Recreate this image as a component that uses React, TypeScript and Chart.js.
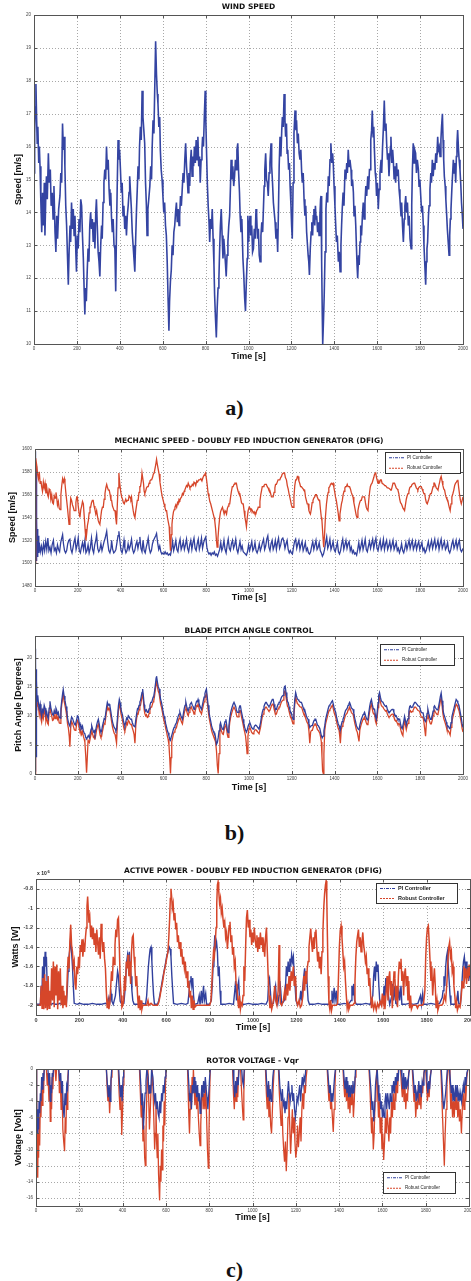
import React, { useEffect, useRef } from 'react';
import { Chart, registerables } from 'chart.js';

Chart.register(...registerables);
Chart.defaults.font.family = "'Liberation Sans', Arial, sans-serif";

type Pt = [number, number];

// ---------- tick labels ----------
const TIME_TICKS = [0, 200, 400, 600, 800, 1000, 1200, 1400, 1600, 1800, 2000];
const WIND_TICKS = [10, 11, 12, 13, 14, 15, 16, 17, 18, 19, 20];
const MECH_TICKS = [1480, 1500, 1520, 1540, 1560, 1580, 1600];
const PITCH_TICKS = [0, 5, 10, 15, 20];
const POWER_TICKS = [-2, -1.8, -1.6, -1.4, -1.2, -1, -0.8];
const VOLT_TICKS = [-16, -14, -12, -10, -8, -6, -4, -2, 0];

const SERIES_NAMES = ['PI Controller', 'Robust Controller'];
const BLUE = '#31409d';
const RED = '#d6462a';

// ---------- a) wind speed [s, m/s] ----------
const WIND_SPEED: Pt[] = [[0,15.2],[3,16.4],[6,17.2],[9,17.9],[12,16.9],[15,16.1],[18,16.6],[22,15.5],[25,16.0],[28,15.4],[32,14.3],[36,13.4],[40,14.6],[44,13.6],[48,14.9],[51,13.3],[55,14.5],[58,15.1],[62,14.4],[67,15.8],[71,14.9],[76,15.3],[80,14.2],[85,14.6],[89,13.8],[93,14.8],[98,13.4],[102,12.8],[106,13.9],[110,13.2],[115,14.1],[121,14.5],[125,15.2],[129,14.9],[133,16.7],[137,15.9],[141,16.3],[144,15.4],[148,14.2],[152,13.6],[156,12.7],[160,11.8],[164,12.9],[168,13.6],[171,13.1],[175,14.3],[179,13.5],[183,14.1],[187,13.3],[191,13.9],[195,12.8],[198,12.2],[202,13.3],[206,12.9],[210,13.8],[214,13.4],[218,14.4],[222,14.2],[226,13.3],[230,12.6],[234,11.6],[237,10.9],[240,11.7],[244,11.3],[248,12.2],[252,12.9],[256,12.5],[260,13.6],[264,14.0],[268,13.5],[272,13.8],[276,13.1],[280,13.7],[284,12.9],[288,14.0],[291,14.4],[295,13.6],[299,12.8],[303,12.5],[307,12.05],[311,13.0],[315,13.6],[318,13.2],[322,14.3],[326,14.9],[330,15.3],[334,15.0],[338,16.0],[342,15.3],[346,15.6],[350,14.7],[354,14.2],[358,14.6],[361,13.9],[365,13.4],[369,13.8],[373,13.0],[377,12.9],[381,11.6],[384,13.2],[388,14.8],[392,16.2],[396,15.6],[399,15.9],[403,15.3],[407,14.6],[411,14.9],[415,13.9],[419,14.2],[423,13.5],[427,13.9],[431,13.3],[435,13.9],[439,14.2],[443,14.6],[446,15.1],[450,14.6],[454,14.1],[458,13.4],[462,13.0],[466,12.6],[470,12.2],[474,13.2],[478,14.1],[482,14.8],[485,15.4],[489,15.0],[492,16.0],[496,16.6],[500,16.2],[504,17.7],[508,16.9],[512,16.5],[516,16.1],[520,14.9],[524,14.2],[527,13.3],[531,14.1],[535,14.4],[540,14.8],[544,15.4],[548,15.0],[551,16.0],[555,16.8],[559,16.4],[563,17.8],[567,19.2],[571,18.2],[575,17.6],[578,17.3],[582,16.6],[586,16.9],[589,15.9],[593,15.3],[597,15.0],[601,14.5],[605,14.0],[609,14.3],[613,13.6],[617,13.3],[621,12.5],[625,11.4],[629,10.4],[632,11.3],[636,11.9],[640,12.25],[644,13.0],[648,12.7],[652,13.4],[656,13.6],[660,14.0],[664,14.3],[668,13.7],[672,14.1],[676,13.6],[679,13.9],[683,14.5],[687,14.2],[691,14.7],[695,15.2],[699,14.9],[703,15.6],[707,16.1],[711,15.4],[715,15.0],[718,14.6],[722,15.2],[726,14.8],[729,15.5],[733,15.9],[737,15.1],[741,15.7],[744,15.4],[748,16.0],[752,15.5],[756,16.2],[760,15.6],[764,16.3],[768,15.4],[772,15.7],[775,14.9],[779,15.6],[783,15.9],[786,16.3],[790,16.0],[794,16.9],[798,17.7],[801,16.8],[805,15.7],[808,14.9],[812,14.2],[816,13.7],[819,13.1],[823,13.8],[827,13.5],[831,14.1],[835,13.2],[839,12.4],[842,11.5],[846,10.8],[850,10.2],[854,11.1],[858,11.7],[862,12.0],[866,13.0],[869,13.6],[873,14.1],[877,13.3],[881,12.6],[885,13.2],[889,12.8],[893,12.4],[896,12.05],[900,12.7],[904,13.1],[908,13.6],[912,13.9],[916,14.8],[919,15.6],[923,15.0],[927,15.4],[931,14.8],[935,15.1],[939,15.6],[943,15.3],[946,15.9],[950,16.1],[954,15.2],[958,14.6],[961,13.9],[965,13.4],[969,13.8],[974,12.6],[978,12.1],[982,11.4],[986,11.0],[990,11.9],[994,12.6],[997,13.9],[1001,13.1],[1004,13.6],[1007,13.9],[1011,13.3],[1015,13.6],[1019,12.8],[1023,12.9],[1027,13.5],[1031,13.2],[1035,14.1],[1038,13.9],[1042,13.2],[1046,13.5],[1050,12.7],[1054,12.5],[1058,13.3],[1062,13.7],[1066,13.4],[1069,14.0],[1073,14.8],[1076,15.3],[1080,15.8],[1084,15.0],[1088,14.9],[1092,14.5],[1096,15.2],[1100,15.5],[1105,16.1],[1108,15.4],[1112,14.9],[1116,14.3],[1120,14.0],[1124,13.7],[1128,13.2],[1132,13.5],[1136,12.8],[1140,14.2],[1143,15.4],[1147,16.3],[1151,15.7],[1155,16.5],[1158,16.9],[1162,16.6],[1166,17.6],[1170,16.8],[1173,16.3],[1177,16.7],[1180,15.8],[1183,15.9],[1187,15.3],[1191,15.5],[1194,14.8],[1198,14.2],[1201,13.6],[1204,13.2],[1208,14.9],[1212,16.4],[1217,17.1],[1221,16.5],[1224,16.8],[1228,16.1],[1232,16.4],[1236,15.8],[1240,15.6],[1244,15.9],[1248,15.2],[1251,14.9],[1255,15.2],[1259,14.4],[1263,13.9],[1267,14.2],[1271,13.4],[1274,13.1],[1278,12.7],[1281,12.5],[1284,12.1],[1288,12.9],[1292,13.4],[1295,13.7],[1299,13.3],[1302,13.9],[1305,14.1],[1309,13.6],[1312,14.2],[1315,13.8],[1318,13.9],[1322,13.4],[1326,13.7],[1329,13.3],[1333,13.9],[1336,14.4],[1338,14.5],[1341,12.5],[1344,10.9],[1346,10.0],[1350,10.8],[1353,11.5],[1357,12.8],[1361,14.1],[1365,14.6],[1369,14.3],[1372,15.1],[1376,14.8],[1380,15.6],[1384,16.1],[1388,15.5],[1392,15.8],[1395,15.5],[1399,14.8],[1403,14.2],[1406,13.7],[1410,13.1],[1414,13.3],[1419,12.5],[1423,12.8],[1427,12.2],[1431,13.0],[1434,13.6],[1437,14.1],[1441,14.6],[1445,14.2],[1450,15.3],[1454,15.0],[1458,15.5],[1461,15.2],[1465,15.9],[1469,15.4],[1473,15.6],[1478,15.3],[1481,14.8],[1485,15.0],[1489,14.6],[1492,13.9],[1496,14.2],[1500,13.6],[1503,13.0],[1506,12.4],[1509,12.0],[1513,12.7],[1516,12.4],[1520,13.1],[1523,13.6],[1527,13.3],[1531,13.9],[1535,14.3],[1539,13.8],[1543,14.3],[1547,14.8],[1551,14.5],[1556,15.1],[1560,14.7],[1564,15.3],[1567,15.3],[1570,16.2],[1574,16.5],[1577,17.1],[1581,16.3],[1584,16.6],[1587,15.9],[1591,15.2],[1594,15.0],[1597,14.5],[1601,14.9],[1605,14.1],[1609,14.7],[1613,15.2],[1618,15.6],[1621,15.2],[1625,16.0],[1629,16.6],[1633,17.4],[1637,16.5],[1641,16.7],[1644,16.1],[1648,15.6],[1651,15.8],[1655,15.1],[1659,15.7],[1662,16.0],[1664,16.3],[1668,15.5],[1672,15.9],[1675,15.6],[1679,15.0],[1683,15.4],[1686,14.9],[1690,15.5],[1694,15.1],[1698,15.3],[1702,14.7],[1706,14.4],[1711,13.9],[1714,14.3],[1718,13.6],[1722,13.1],[1726,13.8],[1729,14.2],[1733,14.5],[1737,14.0],[1741,14.3],[1745,13.6],[1749,13.9],[1753,13.2],[1758,12.9],[1761,14.2],[1764,15.3],[1768,16.1],[1772,15.5],[1775,15.9],[1779,15.8],[1783,15.2],[1787,15.6],[1792,15.3],[1795,14.8],[1799,15.0],[1803,14.5],[1807,14.0],[1811,14.2],[1815,13.6],[1818,13.0],[1822,12.4],[1826,11.8],[1829,12.5],[1832,12.9],[1835,13.1],[1839,13.9],[1842,14.2],[1846,14.7],[1850,15.2],[1853,14.9],[1857,15.6],[1861,15.1],[1865,15.5],[1869,15.3],[1873,15.8],[1877,15.5],[1882,16.3],[1885,15.9],[1889,16.0],[1893,15.7],[1897,16.2],[1900,16.6],[1904,17.0],[1907,16.2],[1910,15.6],[1913,15.1],[1917,14.8],[1920,14.4],[1924,13.9],[1927,13.5],[1931,13.1],[1935,12.7],[1938,13.3],[1941,13.8],[1944,14.1],[1948,14.7],[1951,15.1],[1955,15.6],[1959,15.2],[1962,15.5],[1966,14.9],[1969,15.7],[1972,16.1],[1975,16.5],[1979,15.9],[1982,15.6],[1986,15.3],[1990,14.8],[1993,14.3],[1997,13.9],[2000,13.5]];

// ---------- b) mechanic speed ----------
const MECH_PI: Pt[] = [[0,1500],[1,1570],[2,1505],[3,1598],[4,1508],[5,1585],[6,1502],[7,1560],[8,1510],[9,1540],[10,1506],[12,1530],[14,1512],[16,1524],[18,1509],[20,1518],[25,1510],[30,1515],[35,1509],[40,1517],[45,1511],[50,1519],[55,1512],[60,1522],[65,1511],[70,1514],[75,1509],[80,1516],[86,1520],[90,1511],[95,1513],[100,1509],[105,1516],[110,1512],[115,1510],[120,1518],[125,1522],[129,1525],[133,1517],[138,1511],[143,1509],[148,1511],[153,1517],[158,1520],[163,1521],[168,1512],[173,1509],[178,1514],[183,1519],[187,1522],[192,1512],[197,1516],[202,1522],[207,1511],[212,1509],[217,1514],[222,1518],[227,1512],[233,1520],[238,1509],[243,1511],[248,1516],[253,1509],[258,1513],[264,1522],[269,1512],[274,1509],[279,1516],[284,1520],[288,1525],[293,1513],[298,1510],[303,1512],[308,1517],[313,1511],[318,1515],[323,1519],[328,1522],[335,1528],[340,1518],[345,1511],[350,1509],[355,1513],[358,1520],[363,1512],[368,1509],[373,1510],[378,1512],[383,1518],[388,1524],[392,1528],[397,1519],[402,1511],[407,1509],[412,1514],[416,1520],[420,1513],[425,1509],[430,1511],[435,1517],[440,1512],[445,1515],[451,1521],[456,1512],[461,1509],[466,1511],[471,1516],[476,1519],[481,1513],[486,1518],[490,1523],[495,1513],[500,1510],[505,1520],[510,1511],[515,1509],[520,1514],[525,1518],[529,1522],[534,1513],[539,1509],[544,1511],[549,1517],[554,1520],[559,1522],[564,1524],[568,1526],[573,1518],[578,1512],[583,1515],[588,1510],[593,1508],[598,1509],[603,1508],[608,1510],[613,1508],[618,1509],[623,1507],[628,1508],[633,1507],[638,1512],[643,1519],[648,1511],[653,1515],[658,1520],[663,1512],[668,1510],[673,1517],[678,1521],[683,1512],[688,1515],[693,1519],[698,1512],[703,1516],[708,1521],[713,1513],[718,1510],[723,1516],[728,1520],[733,1512],[738,1518],[743,1522],[748,1513],[753,1511],[758,1517],[763,1521],[768,1512],[773,1516],[778,1522],[783,1513],[788,1518],[793,1521],[798,1523],[803,1514],[808,1510],[813,1508],[818,1509],[823,1507],[828,1509],[833,1508],[838,1510],[843,1507],[848,1508],[853,1506],[858,1509],[863,1512],[868,1518],[873,1511],[878,1514],[883,1520],[888,1512],[893,1509],[898,1516],[903,1521],[908,1513],[913,1511],[918,1517],[923,1520],[928,1513],[933,1516],[938,1521],[943,1512],[948,1509],[953,1514],[958,1519],[963,1512],[968,1515],[973,1510],[978,1509],[983,1508],[988,1507],[993,1510],[998,1516],[1003,1511],[1008,1515],[1013,1519],[1018,1511],[1023,1513],[1028,1518],[1033,1511],[1038,1509],[1043,1512],[1048,1517],[1053,1511],[1058,1514],[1063,1518],[1068,1521],[1073,1512],[1078,1515],[1083,1521],[1088,1524],[1093,1514],[1098,1511],[1103,1517],[1108,1520],[1113,1512],[1118,1515],[1123,1520],[1128,1512],[1133,1518],[1138,1522],[1143,1513],[1148,1516],[1153,1521],[1158,1522],[1163,1519],[1168,1513],[1173,1517],[1178,1520],[1183,1512],[1188,1509],[1193,1511],[1198,1509],[1203,1508],[1208,1514],[1213,1519],[1218,1521],[1223,1513],[1228,1517],[1233,1520],[1238,1512],[1243,1516],[1248,1519],[1253,1511],[1258,1514],[1263,1518],[1268,1511],[1273,1513],[1278,1509],[1283,1508],[1288,1510],[1293,1515],[1298,1519],[1303,1512],[1308,1516],[1313,1520],[1318,1512],[1323,1514],[1328,1518],[1333,1511],[1338,1509],[1343,1506],[1348,1508],[1353,1512],[1358,1518],[1363,1523],[1368,1513],[1373,1516],[1378,1521],[1383,1512],[1388,1515],[1393,1519],[1398,1512],[1403,1510],[1408,1514],[1413,1518],[1418,1510],[1423,1508],[1428,1511],[1433,1517],[1438,1521],[1443,1512],[1448,1516],[1453,1520],[1458,1513],[1463,1517],[1468,1519],[1473,1511],[1478,1514],[1483,1509],[1488,1511],[1493,1508],[1498,1509],[1503,1507],[1508,1512],[1513,1518],[1518,1511],[1523,1515],[1528,1520],[1533,1512],[1538,1516],[1543,1521],[1548,1512],[1553,1510],[1558,1515],[1563,1519],[1568,1513],[1573,1517],[1578,1521],[1583,1513],[1588,1518],[1593,1522],[1598,1513],[1603,1511],[1608,1516],[1613,1520],[1618,1512],[1623,1515],[1628,1521],[1633,1512],[1638,1517],[1643,1520],[1648,1512],[1653,1515],[1658,1519],[1663,1512],[1668,1516],[1673,1520],[1678,1512],[1683,1515],[1688,1518],[1693,1511],[1698,1513],[1703,1509],[1708,1512],[1713,1517],[1718,1511],[1723,1509],[1728,1513],[1733,1518],[1738,1512],[1743,1516],[1748,1520],[1753,1513],[1758,1517],[1763,1520],[1768,1512],[1773,1515],[1778,1519],[1783,1512],[1788,1516],[1793,1519],[1798,1512],[1803,1515],[1808,1518],[1813,1511],[1818,1513],[1823,1509],[1828,1511],[1833,1515],[1838,1519],[1843,1512],[1848,1516],[1853,1520],[1858,1513],[1863,1517],[1868,1521],[1873,1513],[1878,1516],[1883,1520],[1888,1512],[1893,1517],[1898,1521],[1903,1513],[1908,1516],[1913,1519],[1918,1512],[1923,1514],[1928,1518],[1933,1511],[1938,1509],[1943,1512],[1948,1517],[1953,1520],[1958,1513],[1963,1516],[1968,1520],[1973,1513],[1978,1517],[1983,1520],[1988,1512],[1993,1510],[1998,1512],[2000,1511]];

const MECH_ROBUST: Pt[] = [[0,1500],[2,1560],[4,1592],[8,1586],[12,1578],[16,1574],[20,1580],[24,1570],[28,1572],[31,1567],[35,1563],[39,1571],[43,1566],[47,1570],[51,1561],[55,1566],[59,1560],[62,1558],[66,1565],[70,1564],[74,1556],[78,1560],[82,1553],[86,1552],[90,1559],[94,1557],[98,1562],[101,1558],[105,1551],[109,1554],[113,1548],[117,1547],[121,1560],[125,1568],[129,1574],[133,1571],[137,1574],[140,1570],[144,1562],[148,1555],[152,1548],[156,1540],[159,1534],[163,1545],[167,1557],[171,1555],[175,1551],[179,1549],[183,1546],[187,1546],[191,1553],[195,1558],[198,1558],[202,1550],[206,1544],[210,1540],[214,1547],[218,1550],[222,1554],[226,1552],[230,1541],[234,1530],[238,1520],[242,1527],[245,1533],[249,1537],[253,1544],[257,1549],[260,1549],[264,1553],[268,1555],[272,1555],[276,1550],[280,1547],[284,1543],[288,1546],[292,1541],[296,1537],[300,1535],[303,1534],[307,1540],[311,1546],[315,1549],[319,1549],[323,1556],[327,1561],[331,1566],[335,1569],[339,1566],[343,1564],[347,1564],[351,1560],[355,1555],[358,1555],[362,1550],[366,1548],[370,1546],[374,1546],[377,1540],[381,1534],[384,1548],[388,1566],[392,1579],[396,1570],[401,1562],[405,1558],[409,1556],[413,1553],[417,1552],[420,1552],[424,1556],[428,1554],[432,1555],[436,1555],[440,1559],[444,1558],[448,1556],[451,1558],[455,1551],[459,1546],[463,1542],[467,1540],[471,1546],[475,1551],[478,1555],[482,1555],[486,1562],[490,1567],[493,1567],[497,1572],[500,1579],[503,1579],[507,1570],[510,1563],[513,1561],[517,1563],[521,1566],[525,1567],[529,1567],[533,1570],[537,1572],[541,1573],[545,1573],[549,1575],[553,1578],[557,1579],[560,1579],[564,1586],[568,1591],[572,1586],[576,1582],[580,1578],[584,1571],[587,1567],[591,1562],[595,1558],[599,1555],[603,1552],[607,1549],[611,1546],[615,1546],[619,1540],[623,1536],[627,1532],[630,1520],[633,1511],[637,1525],[640,1534],[643,1540],[647,1545],[651,1547],[654,1549],[658,1551],[662,1549],[666,1553],[669,1552],[673,1556],[677,1555],[681,1557],[685,1558],[689,1561],[693,1560],[697,1563],[700,1564],[704,1566],[708,1568],[712,1567],[716,1570],[720,1568],[724,1566],[727,1567],[731,1567],[735,1569],[739,1568],[743,1571],[747,1570],[751,1568],[756,1572],[760,1571],[765,1573],[770,1573],[775,1574],[780,1572],[785,1575],[790,1577],[794,1578],[797,1579],[801,1574],[805,1568],[809,1561],[813,1558],[817,1554],[821,1552],[825,1549],[829,1546],[833,1543],[837,1540],[840,1537],[844,1530],[848,1520],[851,1514],[855,1522],[859,1532],[863,1540],[867,1545],[871,1547],[876,1549],[880,1546],[884,1543],[888,1546],[891,1545],[895,1543],[899,1548],[903,1550],[906,1552],[910,1552],[914,1558],[918,1563],[922,1567],[926,1567],[930,1569],[934,1570],[937,1570],[941,1570],[945,1566],[949,1563],[953,1561],[957,1561],[961,1557],[965,1553],[969,1552],[973,1552],[977,1546],[981,1540],[985,1536],[988,1532],[992,1540],[996,1546],[1001,1549],[1005,1548],[1009,1546],[1013,1547],[1016,1546],[1020,1544],[1024,1545],[1028,1543],[1032,1543],[1036,1546],[1040,1547],[1043,1549],[1047,1549],[1051,1554],[1055,1560],[1059,1564],[1062,1567],[1066,1567],[1070,1568],[1074,1569],[1077,1569],[1081,1569],[1085,1567],[1089,1566],[1093,1564],[1097,1564],[1101,1561],[1105,1558],[1109,1558],[1113,1558],[1117,1562],[1121,1566],[1124,1569],[1128,1569],[1132,1571],[1136,1573],[1140,1573],[1144,1573],[1148,1575],[1152,1576],[1155,1578],[1158,1578],[1162,1579],[1166,1579],[1170,1575],[1175,1573],[1179,1568],[1183,1565],[1187,1561],[1190,1561],[1194,1555],[1198,1551],[1202,1549],[1206,1549],[1210,1558],[1214,1568],[1218,1573],[1222,1573],[1226,1576],[1229,1576],[1233,1572],[1237,1570],[1241,1567],[1245,1567],[1249,1566],[1253,1565],[1256,1564],[1260,1564],[1264,1558],[1268,1555],[1272,1552],[1276,1552],[1280,1546],[1284,1544],[1287,1543],[1291,1547],[1295,1553],[1299,1555],[1303,1557],[1307,1558],[1311,1560],[1315,1560],[1319,1558],[1323,1556],[1327,1555],[1330,1555],[1334,1547],[1338,1540],[1341,1537],[1345,1525],[1349,1514],[1353,1525],[1357,1540],[1362,1552],[1366,1558],[1370,1562],[1373,1566],[1377,1567],[1381,1569],[1385,1570],[1389,1569],[1393,1570],[1397,1566],[1401,1562],[1404,1558],[1408,1555],[1412,1550],[1416,1545],[1421,1537],[1425,1543],[1429,1548],[1432,1552],[1436,1555],[1440,1560],[1444,1563],[1448,1566],[1451,1567],[1455,1567],[1459,1569],[1463,1567],[1467,1567],[1470,1567],[1474,1565],[1478,1562],[1482,1560],[1486,1558],[1490,1553],[1494,1549],[1498,1545],[1501,1542],[1505,1540],[1509,1546],[1513,1550],[1517,1553],[1521,1555],[1525,1555],[1529,1558],[1533,1558],[1537,1558],[1540,1558],[1544,1553],[1548,1549],[1552,1547],[1556,1546],[1560,1556],[1564,1563],[1567,1567],[1571,1569],[1575,1570],[1579,1570],[1583,1575],[1587,1578],[1592,1579],[1596,1575],[1600,1572],[1603,1570],[1607,1572],[1611,1571],[1614,1573],[1618,1573],[1622,1570],[1626,1570],[1630,1569],[1634,1568],[1638,1568],[1642,1567],[1646,1566],[1650,1566],[1654,1566],[1658,1565],[1662,1564],[1665,1564],[1669,1567],[1673,1570],[1677,1570],[1680,1570],[1684,1568],[1688,1566],[1692,1565],[1696,1564],[1700,1561],[1704,1556],[1708,1553],[1712,1552],[1716,1550],[1720,1548],[1724,1547],[1727,1546],[1731,1551],[1735,1556],[1739,1559],[1743,1561],[1747,1563],[1751,1566],[1755,1567],[1758,1567],[1762,1569],[1766,1569],[1770,1570],[1774,1570],[1778,1568],[1782,1566],[1786,1565],[1789,1564],[1793,1566],[1797,1567],[1801,1567],[1805,1567],[1809,1565],[1813,1563],[1817,1561],[1821,1561],[1825,1556],[1829,1553],[1833,1552],[1836,1552],[1840,1556],[1844,1559],[1848,1561],[1852,1561],[1856,1564],[1860,1567],[1864,1570],[1867,1570],[1871,1568],[1875,1566],[1879,1565],[1883,1564],[1887,1568],[1891,1571],[1894,1574],[1898,1576],[1902,1572],[1906,1568],[1910,1565],[1914,1564],[1918,1560],[1921,1558],[1925,1556],[1929,1555],[1933,1551],[1937,1548],[1940,1546],[1944,1552],[1948,1558],[1953,1561],[1957,1564],[1961,1568],[1965,1570],[1969,1571],[1972,1572],[1976,1573],[1980,1566],[1984,1560],[1988,1555],[1992,1552],[1996,1555],[2000,1558]];

// ---------- b) blade pitch angle ----------
const PITCH_PI: Pt[] = [[0,0.5],[1,12],[2,21.5],[3,6],[4,20],[5,3],[6,18],[7,9],[8,16],[10,12.5],[13,13.5],[16,12.2],[20,11.2],[24,12],[28,10.5],[31,9.9],[35,11],[39,10.6],[43,11.8],[47,11.3],[51,10.2],[55,10.6],[59,9.8],[62,9.5],[66,11.3],[70,12.5],[74,11.4],[78,10.8],[82,10.2],[86,10.1],[90,10.9],[94,10.4],[98,11.3],[101,11],[105,10.3],[109,10.6],[113,9.8],[117,9.6],[121,11.2],[125,12.6],[129,13.8],[132,14.5],[136,13.4],[140,12.6],[145,11.6],[149,10.6],[152,9.6],[156,8.9],[160,8.4],[163,8.2],[167,9.1],[171,9.8],[176,9.5],[180,9.0],[184,8.6],[188,8.4],[191,8.4],[195,9.4],[198,10],[202,9.9],[206,8.9],[210,8.2],[214,8.4],[218,7.8],[222,8.2],[226,7.4],[230,7.0],[233,6.9],[237,6.3],[241,6.0],[245,6.3],[249,6.6],[254,6.2],[258,7.0],[262,7.7],[265,8.3],[269,7.8],[273,7.2],[277,7.4],[280,6.9],[284,7.6],[288,8.4],[292,9.0],[296,9.4],[300,8.6],[304,7.6],[308,7.2],[311,7.3],[315,8.2],[319,8.8],[323,9.5],[327,9.4],[331,10.6],[335,11.6],[338,12.3],[342,11.8],[346,12],[350,11.7],[354,10.8],[358,9.8],[362,9.0],[366,8.4],[370,8.0],[374,7.8],[378,7.4],[381,7.6],[385,9.5],[390,11.8],[394,12.8],[398,12.2],[401,11.3],[405,10.6],[409,10.1],[413,9.2],[417,8.5],[420,8.3],[424,8.9],[428,9.6],[432,9.4],[436,10],[440,9.8],[444,9.5],[448,9.4],[451,9.4],[455,8.8],[459,8.4],[463,8.2],[467,8.1],[471,9.3],[475,10.4],[479,11.2],[482,11.1],[486,11.8],[490,12.4],[493,12.6],[497,13.4],[500,14],[503,14.6],[507,13.2],[510,11.9],[513,11.2],[517,10.8],[521,11],[525,10.6],[529,10.6],[533,11.2],[537,11.8],[541,12.3],[545,12.3],[549,12.8],[552,13.2],[555,13.4],[559,14.3],[563,15.5],[566,16.5],[568,16.8],[572,15.8],[576,15],[580,14.6],[584,13.6],[587,12.8],[591,12.3],[595,11.5],[599,10.6],[603,9.9],[607,9.4],[611,8.6],[615,8.0],[618,7.5],[622,7.1],[626,6.5],[630,6.0],[633,5.8],[637,6.4],[641,6.9],[646,7.6],[650,8.0],[654,8.3],[658,8.6],[661,8.8],[665,9.4],[669,9.9],[673,10.3],[677,10.6],[681,10.1],[685,9.7],[689,9.4],[693,10.3],[697,11.2],[701,11.8],[705,12.3],[709,11.6],[713,11],[716,10.8],[720,11.4],[724,11.9],[727,12.1],[731,12.3],[735,11.8],[739,11.6],[743,11.1],[747,11.4],[751,12],[755,12.5],[759,12.4],[762,12.8],[766,12.2],[770,11.7],[774,11.4],[778,11.1],[782,11.8],[786,12.5],[790,13.2],[794,13.8],[797,14.2],[801,14.6],[805,13.2],[809,11.8],[813,10.6],[817,9.8],[821,9.1],[825,8.3],[829,7.8],[833,7.4],[836,7.1],[840,7.0],[844,6.2],[848,5.1],[852,5.4],[856,6.2],[860,7.4],[864,8.4],[867,8.8],[871,8.2],[876,7.7],[880,7.6],[884,8.4],[888,9.0],[892,9.4],[895,8.6],[899,7.5],[902,7.1],[906,8.2],[910,9.6],[914,10.5],[918,11.1],[922,11.6],[926,12],[930,12.3],[934,12.3],[938,11.6],[941,11],[945,10.6],[949,10.6],[953,11.2],[957,11.7],[960,11.7],[964,10.8],[968,10.1],[972,9.4],[976,8.6],[980,8],[984,7.5],[988,7.2],[992,7.6],[996,8.2],[1000,8.6],[1004,8.8],[1008,8.4],[1012,8.0],[1016,7.8],[1019,7.7],[1023,8.0],[1027,8.3],[1031,8.4],[1035,8.3],[1039,8.1],[1043,7.9],[1047,7.7],[1050,7.7],[1054,8.8],[1058,9.8],[1062,10.6],[1066,11.1],[1070,11.6],[1074,12],[1078,12.3],[1081,12.3],[1085,12.0],[1089,11.8],[1093,11.6],[1097,11.7],[1101,12.1],[1105,12.5],[1109,12.8],[1113,12.8],[1117,12],[1121,11.4],[1125,11.1],[1128,11.1],[1132,11.6],[1136,12],[1140,12.3],[1144,12.3],[1148,12.8],[1152,13.2],[1156,13.4],[1159,13.5],[1163,14.5],[1166,15],[1169,15.1],[1173,14.0],[1177,13],[1180,12.4],[1183,12.3],[1187,11.6],[1191,11],[1195,10.6],[1198,10.5],[1202,9.8],[1206,9.4],[1210,11],[1214,12.8],[1218,14],[1222,13.4],[1226,12.9],[1229,12.8],[1233,12.6],[1237,12.4],[1241,12.3],[1245,12.3],[1249,11.9],[1253,11.4],[1256,11.1],[1260,11.1],[1264,10.5],[1268,10],[1272,9.6],[1276,9.4],[1280,8.6],[1284,8.0],[1288,8.2],[1292,8.3],[1296,8.3],[1300,8.8],[1304,9.2],[1308,9.4],[1312,9.4],[1316,8.9],[1320,8.4],[1324,8.3],[1327,8.3],[1331,7.8],[1335,7.1],[1338,6.6],[1342,6.2],[1346,6.5],[1350,7.4],[1354,8.3],[1358,9.4],[1362,10],[1366,10.6],[1370,11.2],[1374,11.7],[1378,11.9],[1382,12.1],[1386,12.4],[1390,12.6],[1394,12],[1398,11.3],[1401,11],[1405,10.6],[1409,9.8],[1413,9.2],[1417,8.6],[1421,8.3],[1424,7.8],[1427,7.6],[1431,8.4],[1435,9],[1439,9.4],[1443,9.8],[1447,10.4],[1451,10.9],[1455,11.1],[1459,11.3],[1463,11.8],[1467,12.1],[1470,12.3],[1474,11.9],[1478,11.4],[1482,11.2],[1486,11.1],[1490,10.4],[1494,9.6],[1498,9],[1502,8.3],[1506,8.0],[1510,7.7],[1514,7.6],[1518,8.4],[1522,9],[1525,9.4],[1529,9.8],[1533,10.2],[1537,10.4],[1540,10.6],[1544,10.1],[1548,9.6],[1552,9.3],[1556,9.4],[1560,10.6],[1564,11.6],[1568,12.4],[1572,12.8],[1576,12],[1580,11.3],[1584,11.1],[1587,11.1],[1591,9.9],[1595,9.4],[1599,10.6],[1603,12.2],[1606,13.5],[1610,14.0],[1614,13.2],[1618,12.6],[1622,12.4],[1626,12.3],[1630,12],[1634,11.8],[1638,11.6],[1642,11.7],[1646,11.2],[1650,10.8],[1653,10.6],[1657,10.6],[1661,10.8],[1665,11],[1669,11.1],[1673,11.1],[1677,10.6],[1681,10.2],[1685,9.9],[1688,10],[1692,9.6],[1696,9.3],[1700,9.4],[1704,9.4],[1708,8.6],[1712,8.0],[1716,7.8],[1719,7.8],[1723,9],[1727,9.9],[1731,9.2],[1735,8.4],[1739,9.1],[1743,9.5],[1747,10.8],[1751,11.6],[1754,11.7],[1758,11.4],[1762,11.5],[1766,11.7],[1770,12],[1774,12.3],[1778,12.3],[1782,12.1],[1786,11.9],[1790,11.7],[1794,11.7],[1797,11.6],[1801,11],[1805,10.6],[1809,10.5],[1813,10.6],[1817,9.8],[1821,9.2],[1825,9.0],[1829,9.6],[1832,10.4],[1836,11.1],[1840,10.4],[1844,9.8],[1848,9.4],[1852,9.4],[1856,10],[1860,10.8],[1864,11.5],[1867,11.7],[1871,11.4],[1875,11.2],[1879,11],[1883,11.1],[1887,11.8],[1891,12.6],[1894,13.3],[1898,13.9],[1902,12.6],[1906,11.2],[1910,10.3],[1914,9.9],[1918,9.4],[1922,8.9],[1925,8.4],[1929,8.3],[1933,8.1],[1937,7.8],[1940,7.8],[1944,8.8],[1948,9.8],[1953,10.6],[1957,11.2],[1961,11.8],[1965,12.4],[1968,12.8],[1972,12.6],[1976,12.2],[1981,11.8],[1985,11],[1989,10.2],[1992,9.6],[1996,8.6],[2000,8.0]];

const PITCH_ROBUST: Pt[] = [[0,0],[2,8],[4,14],[6,11],[8,13.2],[12,11.8],[16,11.5],[20,10.2],[24,11.3],[28,9.4],[31,8.9],[35,10.3],[39,9.6],[43,11],[47,10.5],[51,9.1],[55,9.8],[59,8.7],[62,8.5],[66,10.6],[70,11.8],[74,10.5],[78,10],[82,9.2],[86,9.3],[90,10.1],[94,9.5],[98,10.5],[101,10.2],[105,9.4],[109,9.8],[113,8.8],[117,8.7],[121,10.4],[125,11.9],[129,13.0],[132,13.8],[136,12.5],[140,11.8],[145,10.8],[149,9.7],[152,8.6],[156,7.9],[160,6.5],[163,4.7],[167,8.0],[171,9.0],[176,8.6],[180,8.1],[184,7.6],[188,7.5],[191,7.6],[195,8.6],[198,9.2],[202,9.0],[206,7.9],[210,7.3],[214,7.5],[218,6.8],[222,7.3],[226,6.5],[230,6.0],[233,5.5],[237,3.2],[241,0.2],[244,2.5],[248,5.8],[254,5.4],[258,6.1],[262,6.9],[265,7.5],[269,6.9],[273,6.3],[277,6.5],[280,5.9],[284,6.7],[288,7.6],[292,8.2],[296,8.6],[300,7.7],[304,6.7],[308,6.3],[311,6.4],[315,7.3],[319,8.0],[323,8.7],[327,8.6],[331,9.8],[335,10.9],[338,11.6],[342,11.0],[346,11.3],[350,10.9],[354,10.0],[358,9.0],[362,8.1],[366,7.5],[370,7.0],[374,6.8],[378,6.0],[381,5.3],[385,8.5],[390,11.0],[394,12.0],[398,11.4],[401,10.5],[405,9.8],[409,9.2],[413,8.3],[417,7.6],[420,7.4],[424,8.0],[428,8.8],[432,8.5],[436,9.2],[440,9.0],[444,8.6],[448,8.5],[451,8.5],[455,7.9],[459,7.4],[463,6.8],[467,5.3],[471,8.3],[475,9.6],[479,10.4],[482,10.3],[486,11.0],[490,11.6],[493,11.8],[497,12.6],[500,13.2],[503,13.9],[507,12.4],[510,11.1],[513,10.4],[517,10.0],[521,10.2],[525,9.7],[529,9.8],[533,10.4],[537,11.0],[541,11.5],[545,11.5],[549,12.0],[552,12.4],[555,12.6],[559,13.5],[563,14.7],[566,15.6],[568,16.0],[572,15.0],[576,14.2],[580,13.8],[584,12.8],[587,12.0],[591,11.5],[595,10.7],[599,9.8],[603,9.1],[607,8.6],[611,7.8],[615,7.2],[618,6.6],[622,6.0],[626,5.0],[630,2.5],[633,0.1],[636,2.8],[639,5.5],[643,6.2],[646,6.8],[650,7.2],[654,7.5],[658,7.8],[661,8.0],[665,8.6],[669,9.1],[673,9.5],[677,9.8],[681,9.3],[685,8.9],[689,8.6],[693,9.5],[697,10.4],[701,11.0],[705,11.5],[709,10.8],[713,10.2],[716,10.0],[720,10.6],[724,11.1],[727,11.3],[731,11.5],[735,11.0],[739,10.8],[743,10.3],[747,10.6],[751,11.2],[755,11.7],[759,11.6],[762,12.0],[766,11.4],[770,10.9],[774,10.6],[778,10.3],[782,11.0],[786,11.7],[790,12.4],[794,13.0],[797,13.4],[801,13.8],[805,12.4],[809,11.0],[813,9.8],[817,9.0],[821,8.3],[825,7.5],[829,7.0],[833,6.6],[836,6.3],[840,6.2],[844,5.4],[848,4.0],[852,1.5],[856,0.1],[860,3.5],[864,7.6],[867,8.0],[871,7.4],[876,6.9],[880,6.8],[884,7.6],[888,8.2],[892,8.6],[895,7.8],[899,6.7],[902,6.3],[906,7.4],[910,8.8],[914,9.7],[918,10.3],[922,10.8],[926,11.2],[930,11.5],[934,11.5],[938,10.8],[941,10.2],[945,9.8],[949,9.8],[953,10.4],[957,10.9],[960,10.9],[964,10.0],[968,9.3],[972,8.6],[976,7.8],[980,7.2],[984,6.5],[988,5.0],[991,3.5],[995,6.5],[1000,7.8],[1004,8.0],[1008,7.6],[1012,7.2],[1016,7.0],[1019,6.9],[1023,7.2],[1027,7.5],[1031,7.6],[1035,7.5],[1039,7.3],[1043,7.1],[1047,6.9],[1050,6.9],[1054,8.0],[1058,9.0],[1062,9.8],[1066,10.3],[1070,10.8],[1074,11.2],[1078,11.5],[1081,11.5],[1085,11.2],[1089,11.0],[1093,10.8],[1097,10.9],[1101,11.3],[1105,11.7],[1109,12.0],[1113,12.0],[1117,11.2],[1121,10.6],[1125,10.3],[1128,10.3],[1132,10.8],[1136,11.2],[1140,11.5],[1144,11.5],[1148,12.0],[1152,12.4],[1156,12.6],[1159,12.7],[1163,13.7],[1166,14.2],[1169,14.3],[1173,13.2],[1177,12.2],[1180,11.6],[1183,11.5],[1187,10.8],[1191,10.2],[1195,9.8],[1198,9.7],[1202,9.0],[1206,8.6],[1210,10.2],[1214,12.0],[1218,13.2],[1222,12.6],[1226,12.1],[1229,12.0],[1233,11.8],[1237,11.6],[1241,11.5],[1245,11.5],[1249,11.1],[1253,10.6],[1256,10.3],[1260,10.3],[1264,9.7],[1268,9.2],[1272,8.8],[1276,8.6],[1280,7.4],[1284,5.3],[1288,7.2],[1292,7.5],[1296,7.5],[1300,8.0],[1304,8.4],[1308,8.6],[1312,8.6],[1316,8.1],[1320,7.6],[1324,7.5],[1327,7.5],[1331,7.0],[1335,6.3],[1338,5.5],[1341,3.0],[1344,0.5],[1347,0.1],[1350,3.5],[1354,7.5],[1358,8.6],[1362,9.2],[1366,9.8],[1370,10.4],[1374,10.9],[1378,11.1],[1382,11.3],[1386,11.6],[1390,11.8],[1394,11.2],[1398,10.5],[1401,10.2],[1405,9.8],[1409,9.0],[1413,8.4],[1417,7.8],[1421,7.5],[1424,6.5],[1427,5.3],[1431,7.6],[1435,8.2],[1439,8.6],[1443,9.0],[1447,9.6],[1451,10.1],[1455,10.3],[1459,10.5],[1463,11.0],[1467,11.3],[1470,11.5],[1474,11.1],[1478,10.6],[1482,10.4],[1486,10.3],[1490,9.6],[1494,8.8],[1498,8.2],[1502,7.5],[1506,7.2],[1510,6.4],[1514,5.6],[1518,7.6],[1522,8.2],[1525,8.6],[1529,9.0],[1533,9.4],[1537,9.6],[1540,9.8],[1544,9.3],[1548,8.8],[1552,8.5],[1556,8.6],[1560,9.8],[1564,10.8],[1568,11.6],[1572,12.0],[1576,11.2],[1580,10.5],[1584,10.3],[1587,10.3],[1591,9.1],[1595,8.6],[1599,9.8],[1603,11.4],[1606,12.7],[1610,13.2],[1614,12.4],[1618,11.8],[1622,11.6],[1626,11.5],[1630,11.2],[1634,11.0],[1638,10.8],[1642,10.9],[1646,10.4],[1650,10.0],[1653,9.8],[1657,9.8],[1661,10.0],[1665,10.2],[1669,10.3],[1673,10.3],[1677,9.8],[1681,9.4],[1685,9.1],[1688,9.2],[1692,8.8],[1696,8.5],[1700,8.6],[1704,8.6],[1708,7.8],[1712,7.2],[1716,6.8],[1719,6.6],[1723,8.2],[1727,9.1],[1731,8.4],[1735,7.6],[1739,8.3],[1743,8.7],[1747,10.0],[1751,10.8],[1754,10.9],[1758,10.6],[1762,10.7],[1766,10.9],[1770,11.2],[1774,11.5],[1778,11.5],[1782,11.3],[1786,11.1],[1790,10.9],[1794,10.9],[1797,10.8],[1801,10.2],[1805,9.8],[1809,9.7],[1813,9.8],[1817,9.0],[1821,7.8],[1825,6.5],[1829,8.8],[1832,9.6],[1836,10.3],[1840,9.6],[1844,9.0],[1848,8.6],[1852,8.6],[1856,9.2],[1860,10.0],[1864,10.7],[1867,10.9],[1871,10.6],[1875,10.4],[1879,10.2],[1883,10.3],[1887,11.0],[1891,11.8],[1894,12.5],[1898,13.1],[1902,11.8],[1906,10.4],[1910,9.5],[1914,9.1],[1918,8.6],[1922,8.1],[1925,7.6],[1929,7.5],[1933,7.3],[1937,7.0],[1940,6.7],[1944,8.0],[1948,9.0],[1953,9.8],[1957,10.4],[1961,11.0],[1965,11.6],[1968,12.0],[1972,11.8],[1976,11.4],[1981,11.0],[1985,10.2],[1989,9.4],[1992,8.8],[1996,7.8],[2000,7.2]];

// ---------- c) active power [x 10^6 W] ----------
const POWER_PI: Pt[] = [[0,-1.99],[20,-1.99],[24,-1.8],[27,-1.95],[30,-1.6],[33,-1.85],[36,-1.5],[39,-1.7],[42,-1.45],[45,-1.6],[48,-1.5],[51,-1.75],[54,-1.9],[57,-2.0],[62,-1.99],[70,-1.99],[80,-1.98],[90,-1.99],[100,-1.99],[110,-1.98],[120,-1.99],[130,-1.99],[140,-1.98],[144,-1.85],[148,-1.65],[152,-1.5],[156,-1.42],[160,-1.3],[164,-1.45],[168,-1.6],[172,-1.8],[176,-1.98],[190,-1.99],[200,-1.98],[220,-1.99],[240,-1.99],[260,-1.98],[280,-1.99],[300,-1.99],[320,-1.98],[330,-1.99],[336,-1.92],[340,-1.97],[346,-1.88],[350,-1.96],[356,-1.99],[366,-1.9],[372,-1.75],[376,-1.65],[380,-1.7],[384,-1.85],[388,-1.96],[396,-1.99],[405,-1.98],[410,-1.85],[414,-1.7],[418,-1.55],[422,-1.48],[426,-1.55],[430,-1.45],[434,-1.6],[438,-1.7],[442,-1.85],[446,-1.95],[452,-1.99],[470,-1.99],[490,-1.98],[505,-1.99],[510,-1.9],[514,-1.75],[518,-1.6],[522,-1.5],[526,-1.42],[530,-1.4],[534,-1.55],[538,-1.75],[542,-1.9],[546,-1.99],[560,-1.99],[566,-1.95],[572,-1.88],[578,-1.8],[584,-1.72],[590,-1.65],[596,-1.58],[602,-1.5],[608,-1.45],[614,-1.4],[618,-1.42],[622,-1.5],[626,-1.7],[630,-1.85],[634,-1.98],[650,-1.99],[670,-1.98],[690,-1.99],[700,-1.98],[706,-1.85],[710,-1.75],[714,-1.7],[718,-1.8],[722,-1.72],[726,-1.9],[730,-1.99],[745,-1.98],[752,-1.9],[756,-1.99],[762,-1.85],[766,-1.98],[772,-1.8],[776,-1.95],[782,-1.88],[786,-1.99],[800,-1.99],[808,-1.95],[812,-1.8],[816,-1.6],[820,-1.45],[824,-1.28],[828,-1.4],[832,-1.35],[836,-1.45],[840,-1.7],[844,-1.6],[848,-1.85],[852,-1.99],[870,-1.99],[890,-1.98],[910,-1.99],[916,-1.85],[920,-1.75],[924,-1.95],[930,-1.8],[934,-1.75],[938,-1.95],[944,-1.99],[960,-1.99],[980,-1.98],[1000,-1.99],[1020,-1.99],[1040,-1.98],[1060,-1.99],[1068,-1.95],[1072,-1.75],[1076,-1.72],[1080,-1.85],[1084,-1.99],[1094,-1.98],[1100,-1.85],[1104,-1.8],[1108,-1.95],[1114,-1.99],[1120,-1.9],[1124,-1.75],[1128,-1.85],[1132,-1.99],[1144,-1.95],[1150,-1.8],[1154,-1.6],[1158,-1.7],[1162,-1.55],[1166,-1.65],[1170,-1.52],[1174,-1.6],[1178,-1.48],[1182,-1.55],[1186,-1.5],[1190,-1.68],[1194,-1.8],[1198,-1.95],[1204,-1.99],[1214,-1.98],[1220,-1.85],[1224,-1.95],[1230,-1.8],[1234,-1.7],[1238,-1.62],[1242,-1.75],[1246,-1.65],[1250,-1.8],[1254,-1.95],[1260,-1.99],[1280,-1.99],[1300,-1.98],[1320,-1.99],[1350,-1.99],[1360,-1.95],[1364,-1.85],[1368,-1.98],[1374,-1.82],[1378,-1.95],[1384,-1.85],[1388,-1.99],[1400,-1.99],[1420,-1.98],[1440,-1.99],[1452,-1.95],[1456,-1.8],[1460,-1.9],[1464,-1.78],[1468,-1.95],[1476,-1.99],[1500,-1.99],[1520,-1.98],[1540,-1.99],[1552,-1.9],[1556,-1.7],[1560,-1.6],[1564,-1.75],[1568,-1.55],[1572,-1.65],[1576,-1.58],[1580,-1.8],[1584,-1.95],[1590,-1.99],[1600,-1.95],[1604,-1.8],[1608,-1.95],[1612,-1.72],[1616,-1.85],[1620,-1.7],[1624,-1.9],[1630,-1.99],[1640,-1.9],[1644,-1.78],[1648,-1.95],[1654,-1.8],[1658,-1.98],[1664,-1.99],[1672,-1.85],[1676,-1.95],[1682,-1.8],[1686,-1.99],[1700,-1.99],[1720,-1.98],[1740,-1.99],[1760,-1.98],[1772,-1.9],[1776,-1.99],[1782,-1.88],[1786,-1.99],[1800,-1.99],[1820,-1.98],[1840,-1.99],[1860,-1.98],[1872,-1.92],[1876,-1.85],[1880,-1.7],[1884,-1.8],[1888,-1.6],[1892,-1.5],[1896,-1.45],[1900,-1.6],[1904,-1.75],[1908,-1.9],[1912,-1.99],[1930,-1.99],[1940,-1.95],[1944,-1.85],[1948,-1.98],[1956,-1.99],[1962,-1.8],[1966,-1.65],[1970,-1.55],[1974,-1.5],[1978,-1.62],[1982,-1.55],[1986,-1.7],[1990,-1.6],[1994,-1.75],[2000,-1.65]];

const POWER_ROBUST: Pt[] = [[0,-2],[10,-2],[20,-2.0],[24,-1.8],[28,-2.03],[32,-1.72],[36,-2.04],[40,-1.68],[44,-2.03],[48,-1.75],[52,-2.05],[56,-1.7],[60,-2.03],[64,-1.85],[68,-2.0],[72,-1.62],[76,-1.95],[80,-1.55],[84,-2.02],[88,-1.6],[92,-1.9],[96,-1.58],[100,-2.04],[104,-1.65],[108,-1.95],[112,-1.62],[116,-2.0],[120,-1.8],[124,-2.03],[128,-1.85],[132,-2.0],[136,-1.9],[140,-2.02],[144,-1.7],[148,-1.5],[152,-1.62],[156,-1.35],[160,-1.17],[164,-1.38],[168,-1.45],[172,-1.6],[176,-1.55],[180,-1.78],[184,-1.84],[188,-1.6],[192,-1.68],[196,-1.5],[200,-1.62],[204,-1.38],[208,-1.45],[212,-1.32],[216,-1.5],[220,-1.38],[224,-1.45],[228,-1.3],[232,-1.2],[235,-0.98],[238,-0.88],[241,-1.02],[244,-1.15],[248,-1.1],[252,-1.3],[256,-1.18],[260,-1.32],[264,-1.2],[268,-1.38],[272,-1.26],[276,-1.45],[280,-1.22],[284,-1.35],[288,-1.48],[292,-1.3],[296,-1.52],[300,-1.16],[304,-1.3],[308,-1.45],[312,-1.35],[316,-1.52],[320,-1.62],[324,-1.85],[328,-2.03],[332,-1.96],[336,-2.04],[340,-1.98],[344,-1.82],[348,-1.65],[352,-1.75],[356,-1.5],[360,-1.58],[364,-1.38],[368,-1.22],[372,-1.3],[376,-1.12],[380,-1.1],[384,-1.4],[388,-1.75],[392,-1.9],[396,-2.02],[400,-2.0],[404,-1.95],[408,-1.7],[412,-1.85],[416,-1.55],[420,-1.62],[424,-1.48],[428,-1.7],[432,-1.55],[436,-1.78],[440,-1.45],[444,-1.3],[448,-1.28],[452,-1.5],[456,-1.62],[460,-1.8],[464,-1.7],[468,-1.9],[472,-2.03],[476,-1.9],[480,-2.05],[484,-1.95],[488,-2.04],[492,-2.0],[500,-2.0],[510,-2.0],[516,-1.95],[520,-2.0],[530,-1.98],[540,-2.0],[550,-2.0],[560,-2.0],[566,-1.97],[572,-1.9],[578,-1.82],[584,-1.75],[590,-1.66],[596,-1.6],[602,-1.52],[608,-1.45],[612,-1.3],[616,-1.1],[619,-0.9],[622,-0.8],[625,-0.88],[628,-1.0],[632,-0.95],[636,-1.12],[640,-1.05],[644,-1.22],[648,-1.15],[652,-1.35],[656,-1.28],[660,-1.42],[664,-1.35],[668,-1.5],[672,-1.42],[676,-1.58],[680,-1.5],[684,-1.62],[688,-1.55],[692,-1.72],[696,-1.65],[700,-1.82],[704,-1.75],[708,-1.92],[712,-1.85],[716,-2.03],[720,-1.9],[724,-2.04],[728,-1.95],[732,-2.02],[740,-2.0],[750,-2.0],[760,-2.0],[770,-2.0],[780,-2.0],[790,-2.0],[800,-2.0],[806,-1.96],[810,-1.8],[814,-1.6],[818,-1.45],[822,-1.5],[826,-1.35],[830,-1.2],[833,-0.95],[836,-0.76],[839,-0.73],[842,-0.82],[846,-0.95],[850,-0.9],[854,-1.05],[858,-1.0],[862,-1.12],[866,-1.2],[870,-1.15],[874,-1.3],[878,-1.25],[882,-1.42],[886,-1.3],[890,-1.18],[894,-1.14],[898,-1.35],[902,-1.28],[906,-1.48],[910,-1.4],[914,-1.6],[918,-1.55],[922,-1.78],[926,-1.8],[930,-1.95],[934,-2.03],[938,-1.9],[942,-2.04],[946,-1.98],[950,-2.0],[954,-1.9],[958,-1.6],[962,-1.75],[966,-1.4],[970,-1.1],[974,-1.02],[978,-1.2],[982,-1.12],[986,-1.3],[990,-1.22],[994,-1.38],[998,-1.25],[1002,-1.35],[1006,-1.2],[1010,-1.32],[1014,-1.4],[1018,-1.28],[1022,-1.45],[1026,-1.3],[1030,-1.42],[1034,-1.25],[1038,-1.38],[1042,-1.3],[1046,-1.45],[1050,-1.38],[1054,-1.5],[1058,-1.3],[1062,-1.2],[1066,-1.45],[1070,-1.7],[1074,-1.9],[1078,-2.03],[1082,-1.96],[1086,-2.04],[1090,-2.0],[1096,-1.92],[1100,-1.8],[1104,-1.95],[1110,-2.0],[1116,-1.85],[1120,-1.38],[1123,-1.7],[1126,-1.98],[1132,-2.0],[1140,-1.95],[1146,-1.85],[1150,-1.95],[1156,-1.78],[1160,-1.9],[1166,-1.7],[1170,-1.85],[1176,-1.65],[1180,-1.75],[1186,-1.6],[1190,-1.8],[1196,-1.7],[1200,-1.95],[1206,-2.0],[1212,-1.95],[1218,-2.02],[1224,-2.0],[1230,-1.9],[1234,-1.7],[1238,-1.85],[1242,-1.65],[1246,-1.78],[1250,-1.62],[1254,-1.55],[1258,-1.4],[1262,-1.3],[1266,-1.21],[1270,-1.35],[1274,-1.45],[1278,-1.3],[1282,-1.42],[1286,-1.25],[1290,-1.22],[1294,-1.4],[1298,-1.55],[1302,-1.45],[1306,-1.62],[1310,-1.5],[1314,-1.68],[1318,-1.45],[1322,-1.25],[1326,-1.0],[1330,-0.85],[1334,-0.76],[1337,-0.72],[1340,-0.9],[1343,-1.3],[1346,-1.7],[1350,-1.98],[1354,-2.04],[1358,-1.95],[1362,-2.05],[1366,-2.0],[1372,-2.0],[1378,-2.0],[1384,-2.0],[1390,-1.98],[1394,-1.7],[1398,-1.4],[1402,-1.23],[1406,-1.18],[1410,-1.3],[1414,-1.45],[1418,-1.6],[1422,-1.55],[1426,-1.75],[1430,-1.9],[1434,-2.03],[1438,-1.98],[1442,-2.04],[1448,-2.0],[1454,-2.0],[1460,-2.0],[1466,-1.98],[1470,-1.75],[1474,-1.5],[1478,-1.35],[1482,-1.28],[1486,-1.22],[1490,-1.4],[1494,-1.3],[1498,-1.45],[1502,-1.35],[1506,-1.25],[1510,-1.38],[1514,-1.45],[1518,-1.55],[1522,-1.5],[1526,-1.68],[1530,-1.62],[1534,-1.8],[1538,-1.72],[1542,-1.9],[1546,-2.03],[1550,-1.95],[1556,-2.04],[1562,-1.98],[1568,-2.05],[1574,-1.98],[1580,-2.02],[1586,-1.96],[1592,-2.0],[1596,-1.88],[1600,-1.98],[1604,-1.9],[1608,-2.04],[1614,-1.85],[1618,-1.7],[1622,-1.95],[1626,-1.72],[1630,-1.65],[1634,-1.9],[1638,-1.75],[1642,-2.03],[1646,-1.82],[1650,-1.65],[1654,-1.72],[1658,-1.95],[1662,-1.8],[1666,-2.02],[1670,-1.7],[1674,-1.55],[1678,-1.62],[1682,-1.52],[1686,-1.75],[1690,-1.65],[1694,-1.9],[1698,-1.68],[1702,-1.62],[1706,-1.8],[1710,-1.7],[1714,-1.95],[1718,-1.75],[1722,-2.03],[1726,-1.9],[1730,-2.04],[1736,-2.0],[1744,-2.0],[1752,-2.0],[1758,-2.03],[1764,-2.0],[1772,-2.0],[1780,-2.0],[1786,-1.98],[1792,-1.85],[1796,-1.5],[1800,-1.3],[1804,-1.2],[1808,-1.18],[1812,-1.35],[1816,-1.55],[1820,-1.75],[1824,-1.6],[1828,-1.9],[1832,-1.75],[1836,-1.62],[1840,-1.8],[1844,-2.03],[1848,-1.95],[1852,-2.05],[1858,-2.0],[1864,-2.0],[1870,-2.0],[1876,-1.98],[1882,-1.9],[1888,-1.95],[1894,-1.75],[1898,-1.55],[1902,-1.4],[1906,-1.35],[1910,-1.5],[1914,-1.45],[1918,-1.65],[1922,-1.6],[1926,-1.8],[1930,-1.9],[1934,-2.03],[1938,-1.96],[1942,-2.05],[1948,-2.0],[1954,-2.02],[1960,-1.9],[1964,-1.75],[1968,-1.82],[1972,-1.6],[1976,-1.7],[1980,-1.62],[1984,-1.78],[1988,-1.65],[1992,-1.7],[1996,-1.58],[2000,-1.7]];

// ---------- c) rotor voltage Vqr [V] ----------
const VOLT_PI: Pt[] = [[0,0],[2,-4],[4,-7],[6,-5],[8,-8],[10,-6],[12,-7.5],[14,-4],[17,-5.5],[20,-3],[23,-4],[26,-1],[29,-2.5],[32,-0.5],[35,-1.5],[38,0],[55,0],[60,-2],[63,-0.5],[66,-4],[69,-2],[72,-3],[75,-0.5],[78,-1],[81,0],[105,0],[110,-1.5],[114,-0.5],[118,-3],[122,-1.5],[126,-5],[130,-6],[134,-3],[138,-4.5],[142,-2],[146,-2.5],[150,0],[325,0],[330,-2],[334,-3.5],[338,-2],[342,-4],[346,-1.5],[350,0],[382,0],[386,-2],[390,-3.5],[394,-2],[398,-4],[402,-1],[405,0],[480,0],[484,-2],[488,-4.5],[492,-3],[496,-7.5],[500,-5],[504,-3],[508,-1.5],[512,0],[518,-1],[522,-3],[526,-2],[530,-3],[534,0],[540,-1],[544,-3],[548,-4],[552,-3],[556,-5],[560,-4],[564,-5.5],[568,-6],[572,-4],[576,-5.5],[580,-3],[584,-4],[588,-2],[592,-3],[596,-1],[600,0],[702,0],[706,-2],[710,-4],[714,-3],[718,-5],[722,-2],[726,-3],[730,-1],[734,-3],[738,-1.5],[742,-3.5],[746,-2],[750,-4],[754,-3],[758,-5.5],[762,-4],[766,-2],[770,-3.5],[774,-1.5],[778,-3],[782,-1],[786,-2.5],[790,-3.5],[794,-5],[798,-3],[802,-1],[805,0],[910,0],[914,-2],[918,-3.5],[922,-1.5],[926,-3],[930,-1],[934,-2],[938,0],[950,0],[954,-1.5],[958,-2],[962,0],[1062,0],[1066,-2],[1070,-3.5],[1074,-1.5],[1078,-4],[1082,-2.5],[1086,-4],[1090,-3],[1094,-1],[1098,0],[1122,0],[1126,-2],[1130,-3],[1134,-4],[1138,-2.5],[1142,-4.5],[1146,-4],[1150,-5.5],[1154,-4],[1158,-5],[1162,-3],[1166,-1.5],[1170,-3],[1174,-4],[1178,-3],[1182,-2],[1186,-4],[1190,-3],[1194,-5],[1198,-6],[1202,-5],[1206,-3.5],[1210,-4],[1214,-3],[1218,-2],[1222,-4],[1226,-2.5],[1230,-1],[1234,-2],[1238,-1],[1242,-1.5],[1246,0],[1347,0],[1351,-1.5],[1355,-3],[1359,-2],[1363,-4],[1367,-3],[1371,-4],[1375,-2.5],[1379,-1],[1383,0],[1420,0],[1424,-1.5],[1428,-2.5],[1432,-1],[1436,-3],[1440,-1.5],[1444,-3.5],[1448,-2],[1452,-3.5],[1456,-2],[1460,-3],[1464,-1.5],[1468,-3],[1472,-2],[1476,0],[1540,0],[1544,-1.5],[1548,-3],[1552,-5],[1556,-4],[1560,-6.5],[1564,-5],[1568,-2],[1572,-1],[1576,0],[1580,-2],[1584,-4],[1588,-3],[1592,-5],[1596,-4],[1600,-6],[1604,-5],[1608,-6],[1612,-4],[1616,-3],[1620,-5],[1624,-3],[1628,-4],[1632,-5],[1636,-3],[1640,-4],[1644,-2],[1648,-3],[1652,-1.5],[1656,-3],[1660,-1],[1664,-2],[1668,-0.5],[1672,-1.5],[1676,0],[1686,0],[1690,-1],[1694,-2.5],[1698,-0.5],[1702,-2.5],[1706,-1],[1710,-2.5],[1714,-1.5],[1718,-2],[1722,-0.5],[1726,0],[1740,0],[1744,-1.5],[1748,-3],[1752,-2],[1756,-4],[1760,-3],[1764,-3.5],[1768,-1.5],[1772,-3],[1776,-2],[1780,-3.5],[1784,-1.5],[1788,-2],[1792,-0.5],[1796,0],[1802,0],[1806,-1.5],[1810,-3],[1814,-1.5],[1818,-2.5],[1822,-1],[1826,0],[1872,0],[1876,-2],[1880,-4],[1884,-5],[1888,-4],[1892,-3],[1896,-1.5],[1900,0],[1910,0],[1914,-1.5],[1918,-3],[1922,-2],[1926,-4],[1930,-3],[1934,-4],[1938,-2],[1942,-3.5],[1946,-2],[1950,-4],[1954,-3],[1958,-4],[1962,-3],[1966,-4],[1970,-3],[1974,-2],[1978,-3],[1982,-1],[1986,-2],[1990,-0.5],[1995,0],[2000,0]];

const VOLT_ROBUST: Pt[] = [[0,0],[2,-9],[4,-3],[6,-12],[8,-13.5],[10,-8],[12,-11],[14,-6],[17,-9.5],[20,-4],[23,-6],[26,-2],[29,-4.5],[32,-1],[35,-3],[38,0],[48,0],[52,-2],[55,-0.5],[60,-4],[63,-1],[66,-6.5],[69,-3],[72,-5],[75,-1],[78,-2.5],[81,0],[88,0],[92,-1.5],[95,0],[105,0],[108,-3],[112,-1],[116,-5],[120,-2],[124,-7.5],[128,-9],[132,-10.2],[135,-6],[138,-8],[141,-3],[144,-5],[147,-1],[150,0],[325,0],[328,-2],[332,-4],[336,-2.5],[340,-5.5],[344,-3],[348,-1],[351,0],[380,0],[384,-3],[388,-5],[392,-2],[396,-8.2],[400,-5],[403,-2],[406,0],[478,0],[482,-3],[486,-6],[490,-4],[494,-9],[498,-7],[502,-11],[505,-12],[508,-8],[511,-4],[514,-1],[517,0],[520,-3],[524,-7.5],[528,-5],[532,-2],[535,0],[540,-2],[544,-6],[548,-10],[551,-8],[554,-4],[557,-9],[560,-11],[563,-8],[566,-13],[569,-15],[571,-16.3],[574,-12],[577,-14],[580,-10],[583,-12.5],[586,-7],[589,-9],[592,-4],[595,-7],[598,-2],[601,0],[700,0],[703,-3],[706,-6],[709,-8],[712,-5],[715,-2],[718,-4.5],[721,-1],[724,-3],[727,0],[730,-2],[734,-4.5],[738,-2],[742,-5],[746,-3],[750,-6],[754,-8],[758,-9.5],[761,-7],[764,-4],[768,-2],[772,-5],[776,-3],[780,-5],[784,-2],[788,-6],[792,-10],[796,-12.3],[799,-8],[802,-3],[805,0],[908,0],[912,-3],[916,-5],[920,-2],[924,-4],[928,-1],[932,-3.5],[936,0],[945,0],[950,-3],[954,-5],[957,-6.3],[960,-3],[963,0],[1060,0],[1064,-3],[1068,-5],[1072,-2],[1076,-6],[1080,-4],[1084,-7],[1088,-8],[1092,-5],[1096,-2],[1100,0],[1120,0],[1124,-3],[1128,-5],[1132,-7],[1136,-4],[1140,-8],[1144,-10],[1148,-11.5],[1152,-9],[1156,-12.7],[1160,-10],[1164,-6],[1168,-3],[1172,-7],[1176,-10.5],[1180,-8],[1184,-5],[1188,-8],[1192,-6],[1196,-9],[1200,-11],[1204,-10],[1208,-7],[1212,-9.7],[1216,-8],[1220,-6],[1224,-9],[1228,-5],[1232,-3],[1236,-5],[1240,-2],[1244,-3],[1248,-1],[1252,0],[1345,0],[1349,-2],[1353,-4],[1357,-3],[1361,-5],[1365,-4],[1369,-6],[1373,-7.8],[1377,-5],[1381,-2],[1384,0],[1418,0],[1422,-2],[1426,-3.5],[1430,-1.5],[1434,-4],[1438,-2],[1442,-5],[1446,-3],[1450,-5.5],[1454,-3],[1458,-4.5],[1462,-2],[1466,-6],[1470,-4],[1474,-1],[1478,0],[1538,0],[1542,-2],[1546,-5],[1550,-8],[1554,-6],[1558,-10],[1562,-8],[1566,-4],[1570,-2],[1574,0],[1578,-3],[1582,-6],[1586,-4],[1590,-8],[1594,-6],[1598,-10],[1602,-8],[1606,-11.3],[1610,-9],[1614,-6],[1618,-8],[1622,-5],[1626,-7],[1630,-9],[1634,-6],[1638,-8],[1642,-4],[1646,-6],[1650,-3],[1654,-5],[1658,-2],[1662,-4],[1666,-1],[1670,-3],[1674,0],[1684,0],[1688,-2],[1692,-3.5],[1696,-1],[1700,-4],[1704,-2],[1708,-5],[1712,-3],[1716,-4],[1720,-1],[1724,0],[1738,0],[1742,-2],[1746,-4],[1750,-3],[1754,-6],[1758,-4],[1762,-5],[1766,-2],[1770,-4.5],[1774,-3],[1778,-5],[1782,-2],[1786,-3],[1790,-1],[1794,0],[1800,0],[1804,-2],[1808,-4],[1812,-2],[1816,-3.5],[1820,-1],[1826,0],[1870,0],[1874,-3],[1878,-6],[1882,-9],[1886,-12],[1890,-8],[1894,-5],[1898,-2],[1902,0],[1908,0],[1912,-2],[1916,-5],[1920,-3],[1924,-6],[1928,-4],[1932,-6],[1936,-3],[1940,-5],[1944,-3],[1948,-6],[1952,-4],[1956,-6.5],[1960,-5],[1965,-8],[1969,-5],[1973,-3],[1977,-5],[1981,-2],[1985,-4],[1990,-1],[1995,0],[2000,0]];

// ---------- layout ----------
const W = 471;
const X_AXIS_H = 22;
const TITLE_SIZE = 7.5;
const AXIS_TITLE_SIZE = 9;
const GRID_COLOR = '#a8a8a8';
const BOX_COLOR = '#555';

interface SeriesSpec { label: string; data: Pt[]; color: string; order: number; dash: number[]; width: number; }
interface LegendSpec { x: number; y: number; w: number; h: number; size: number; bold: boolean; }
interface PanelSpec {
  canvasTop: number;
  area: { left: number; right: number; top: number; bottom: number };
  title: string; titleY: number;
  yTitle: string; yTitleX: number; xTitleY: number;
  yMin: number; yMax: number; yTicks: number[];
  tickSize: number; tickBold: boolean;
  series: SeriesSpec[];
  legend?: LegendSpec;
  exponent?: boolean;
}

const PANELS: PanelSpec[] = [
  {
    canvasTop: 0, area: { left: 34, right: 463, top: 15, bottom: 344 },
    title: 'WIND SPEED', titleY: 7, yTitle: 'Speed [m/s]', yTitleX: 19, xTitleY: 357,
    yMin: 10, yMax: 20, yTicks: WIND_TICKS, tickSize: 4.5, tickBold: false,
    series: [{ label: 'Wind speed', data: WIND_SPEED, color: '#3444a2', order: 0, dash: [], width: 1.6 }],
  },
  {
    canvasTop: 434, area: { left: 35, right: 463, top: 449, bottom: 586 },
    title: 'MECHANIC SPEED - DOUBLY FED INDUCTION GENERATOR (DFIG)', titleY: 441,
    yTitle: 'Speed [m/s]', yTitleX: 12.5, xTitleY: 598,
    yMin: 1480, yMax: 1600, yTicks: MECH_TICKS, tickSize: 4.5, tickBold: false,
    series: [
      { label: SERIES_NAMES[0], data: MECH_PI, color: BLUE, order: 1, dash: [3, 1, 1, 1], width: 1.3 },
      { label: SERIES_NAMES[1], data: MECH_ROBUST, color: RED, order: 0, dash: [2, 1], width: 1.3 },
    ],
    legend: { x: 385, y: 452, w: 75, h: 21, size: 4.5, bold: false },
  },
  {
    canvasTop: 621, area: { left: 35, right: 463, top: 636, bottom: 774 },
    title: 'BLADE PITCH ANGLE CONTROL', titleY: 631,
    yTitle: 'Pitch Angle [Degrees]', yTitleX: 19, xTitleY: 788,
    yMin: 0, yMax: 23.7, yTicks: PITCH_TICKS, tickSize: 4.5, tickBold: false,
    series: [
      { label: SERIES_NAMES[0], data: PITCH_PI, color: BLUE, order: 0, dash: [3, 1, 1, 1], width: 1.3 },
      { label: SERIES_NAMES[1], data: PITCH_ROBUST, color: RED, order: 1, dash: [2, 1], width: 1.3 },
    ],
    legend: { x: 380, y: 644, w: 74, h: 21, size: 4.5, bold: false },
  },
  {
    canvasTop: 864, area: { left: 36, right: 470, top: 879, bottom: 1015 },
    title: 'ACTIVE POWER - DOUBLY FED INDUCTION GENERATOR (DFIG)', titleY: 871,
    yTitle: 'Watts [W]', yTitleX: 15.5, xTitleY: 1028,
    yMin: -2.1, yMax: -0.7, yTicks: POWER_TICKS, tickSize: 5.5, tickBold: true,
    series: [
      { label: SERIES_NAMES[0], data: POWER_PI, color: BLUE, order: 1, dash: [3, 1, 1, 1], width: 1.4 },
      { label: SERIES_NAMES[1], data: POWER_ROBUST, color: RED, order: 0, dash: [2, 1], width: 1.5 },
    ],
    legend: { x: 376, y: 883, w: 81, h: 20, size: 5.5, bold: true },
    exponent: true,
  },
  {
    canvasTop: 1054, area: { left: 36, right: 469, top: 1069, bottom: 1206 },
    title: 'ROTOR VOLTAGE - Vqr', titleY: 1061,
    yTitle: 'Voltage [Volt]', yTitleX: 19, xTitleY: 1218,
    yMin: -17, yMax: 0, yTicks: VOLT_TICKS, tickSize: 4.5, tickBold: false,
    series: [
      { label: SERIES_NAMES[0], data: VOLT_PI, color: BLUE, order: 0, dash: [3, 1, 1, 1], width: 1.3 },
      { label: SERIES_NAMES[1], data: VOLT_ROBUST, color: RED, order: 1, dash: [2, 1], width: 1.3 },
    ],
    legend: { x: 383, y: 1172, w: 72, h: 21, size: 4.5, bold: false },
  },
];

const PANEL_LABELS = [
  { text: 'a)', y: 408 },
  { text: 'b)', y: 833 },
  { text: 'c)', y: 1270 },
];

function Panel({ spec }: { spec: PanelSpec }) {
  const ref = useRef<HTMLCanvasElement>(null);
  const H = spec.area.bottom - spec.canvasTop + X_AXIS_H;

  useEffect(() => {
    const s = spec;
    const titleLH = TITLE_SIZE * 1.2;
    const tPadTop = s.titleY - s.canvasTop - titleLH / 2;
    const tPadBottom = s.area.top - s.canvasTop - tPadTop - titleLH;
    const axisLH = AXIS_TITLE_SIZE * 1.2;
    const xTitlePadBottom = s.canvasTop + H - axisLH / 2 - s.xTitleY;
    const yTitlePadTop = s.yTitleX - axisLH / 2;

    const framePlugin = {
      id: 'matlabFrame',
      beforeDatasetsDraw(chart: any) {
        const { ctx, chartArea: a, scales } = chart;
        ctx.save();
        ctx.strokeStyle = GRID_COLOR;
        ctx.lineWidth = 1;
        ctx.setLineDash([1, 2]);
        for (const v of TIME_TICKS) {
          const px = Math.round(scales.x.getPixelForValue(v)) + 0.5;
          ctx.beginPath(); ctx.moveTo(px, a.top); ctx.lineTo(px, a.bottom); ctx.stroke();
        }
        for (const v of s.yTicks) {
          const py = Math.round(scales.y.getPixelForValue(v)) + 0.5;
          ctx.beginPath(); ctx.moveTo(a.left, py); ctx.lineTo(a.right, py); ctx.stroke();
        }
        ctx.restore();
      },
      afterDatasetsDraw(chart: any) {
        const { ctx, chartArea: a, scales } = chart;
        ctx.save();
        ctx.strokeStyle = BOX_COLOR;
        ctx.lineWidth = 1;
        ctx.setLineDash([]);
        ctx.strokeRect(Math.round(a.left) + 0.5, Math.round(a.top) + 0.5,
          Math.round(a.right - a.left), Math.round(a.bottom - a.top));
        ctx.beginPath();
        for (const v of TIME_TICKS) {
          const px = Math.round(scales.x.getPixelForValue(v)) + 0.5;
          ctx.moveTo(px, a.bottom); ctx.lineTo(px, a.bottom - 3);
          ctx.moveTo(px, a.top); ctx.lineTo(px, a.top + 3);
        }
        for (const v of s.yTicks) {
          const py = Math.round(scales.y.getPixelForValue(v)) + 0.5;
          ctx.moveTo(a.left, py); ctx.lineTo(a.left + 3, py);
          ctx.moveTo(a.right, py); ctx.lineTo(a.right - 3, py);
        }
        ctx.stroke();

        if (s.legend) {
          const L = s.legend;
          const ly = L.y - s.canvasTop;
          ctx.fillStyle = '#ffffff';
          ctx.fillRect(L.x, ly, L.w, L.h);
          ctx.strokeStyle = '#333';
          ctx.strokeRect(L.x + 0.5, ly + 0.5, L.w, L.h);
          const n = s.series.length;
          s.series.forEach((se, i) => {
            const cy = ly + (L.h * (i + 0.5)) / n + 0.5;
            ctx.strokeStyle = se.color;
            ctx.lineWidth = 1;
            ctx.setLineDash(se.dash);
            ctx.beginPath(); ctx.moveTo(L.x + 4, cy); ctx.lineTo(L.x + 19, cy); ctx.stroke();
            ctx.setLineDash([]);
            ctx.fillStyle = '#222';
            ctx.font = `${L.bold ? 'bold ' : ''}${L.size}px 'Liberation Sans', Arial, sans-serif`;
            ctx.textAlign = 'left';
            ctx.textBaseline = 'middle';
            ctx.fillText(se.label, L.x + 22, cy);
          });
        }
        if (s.exponent) {
          ctx.fillStyle = '#222';
          ctx.textBaseline = 'middle';
          ctx.textAlign = 'left';
          ctx.font = "bold 5px 'Liberation Sans', Arial, sans-serif";
          const ey = 874 - s.canvasTop;
          ctx.fillText('x 10', 37, ey);
          ctx.font = "bold 4px 'Liberation Sans', Arial, sans-serif";
          ctx.fillText('6', 47.5, ey - 2.5);
        }
        ctx.restore();
      },
    };

    const chart = new Chart(ref.current as HTMLCanvasElement, {
      type: 'line',
      data: {
        datasets: s.series.map((se) => ({
          label: se.label,
          data: se.data.map(([x, y]) => ({ x, y })),
          borderColor: se.color,
          backgroundColor: se.color,
          borderWidth: se.width,
          pointRadius: 0,
          tension: 0,
          fill: false,
          order: se.order,
        })),
      },
      options: {
        animation: false,
        responsive: false,
        devicePixelRatio: 1,
        events: [],
        layout: { padding: { left: 0, right: W - s.area.right, top: 0, bottom: 0 } },
        plugins: {
          legend: { display: false },
          tooltip: { enabled: false },
          title: {
            display: true,
            text: s.title,
            fullSize: false,
            color: '#111',
            font: { family: "'DejaVu Sans', sans-serif", size: TITLE_SIZE, weight: 'bold', lineHeight: 1.2 },
            padding: { top: tPadTop, bottom: tPadBottom },
          },
        },
        scales: {
          x: {
            type: 'linear',
            min: 0,
            max: 2000,
            afterBuildTicks: (sc: any) => { sc.ticks = TIME_TICKS.map((v) => ({ value: v })); },
            afterFit: (sc: any) => { sc.height = X_AXIS_H; sc.paddingLeft = 0; sc.paddingRight = 0; },
            grid: { display: false, drawTicks: false },
            border: { display: false },
            ticks: {
              autoSkip: false, maxRotation: 0, padding: 2, color: '#444',
              font: { size: s.tickSize, weight: s.tickBold ? 'bold' : 'normal' },
              callback: (v: any) => String(v),
            },
            title: {
              display: true, text: 'Time [s]', color: '#111',
              font: { size: AXIS_TITLE_SIZE, weight: 'bold', lineHeight: 1.2 },
              padding: { top: 0, bottom: xTitlePadBottom },
            },
          },
          y: {
            type: 'linear',
            min: s.yMin,
            max: s.yMax,
            afterBuildTicks: (sc: any) => { sc.ticks = s.yTicks.map((v) => ({ value: v })); },
            afterFit: (sc: any) => { sc.width = s.area.left; sc.paddingTop = 0; sc.paddingBottom = 0; },
            grid: { display: false, drawTicks: false },
            border: { display: false },
            ticks: {
              padding: 3, color: '#444',
              font: { size: s.tickSize, weight: s.tickBold ? 'bold' : 'normal' },
              callback: (v: any) => String(v),
            },
            title: {
              display: true, text: s.yTitle, color: '#111',
              font: { size: AXIS_TITLE_SIZE, weight: 'bold', lineHeight: 1.2 },
              padding: { top: yTitlePadTop, bottom: 0 },
            },
          },
        },
      } as any,
      plugins: [framePlugin],
    });
    return () => chart.destroy();
  }, [spec, H]);

  return (
    <canvas
      ref={ref}
      width={W}
      height={H}
      style={{ position: 'absolute', left: 0, top: spec.canvasTop, width: W, height: H }}
    />
  );
}

export default function App() {
  return (
    <div style={{ position: 'absolute', left: 0, top: 0, width: W, height: 1281, background: '#fff', overflow: 'hidden' }}>
      {PANELS.map((p, i) => <Panel key={i} spec={p} />)}
      {PANEL_LABELS.map((l) => (
        <div
          key={l.text}
          style={{
            position: 'absolute', left: 0, width: W - 2, top: l.y - 14, height: 28, lineHeight: '28px',
            textAlign: 'center', fontFamily: "'Liberation Serif', 'Times New Roman', serif",
            fontWeight: 'bold', fontSize: 22, color: '#111',
          }}
        >
          {l.text}
        </div>
      ))}
    </div>
  );
}
